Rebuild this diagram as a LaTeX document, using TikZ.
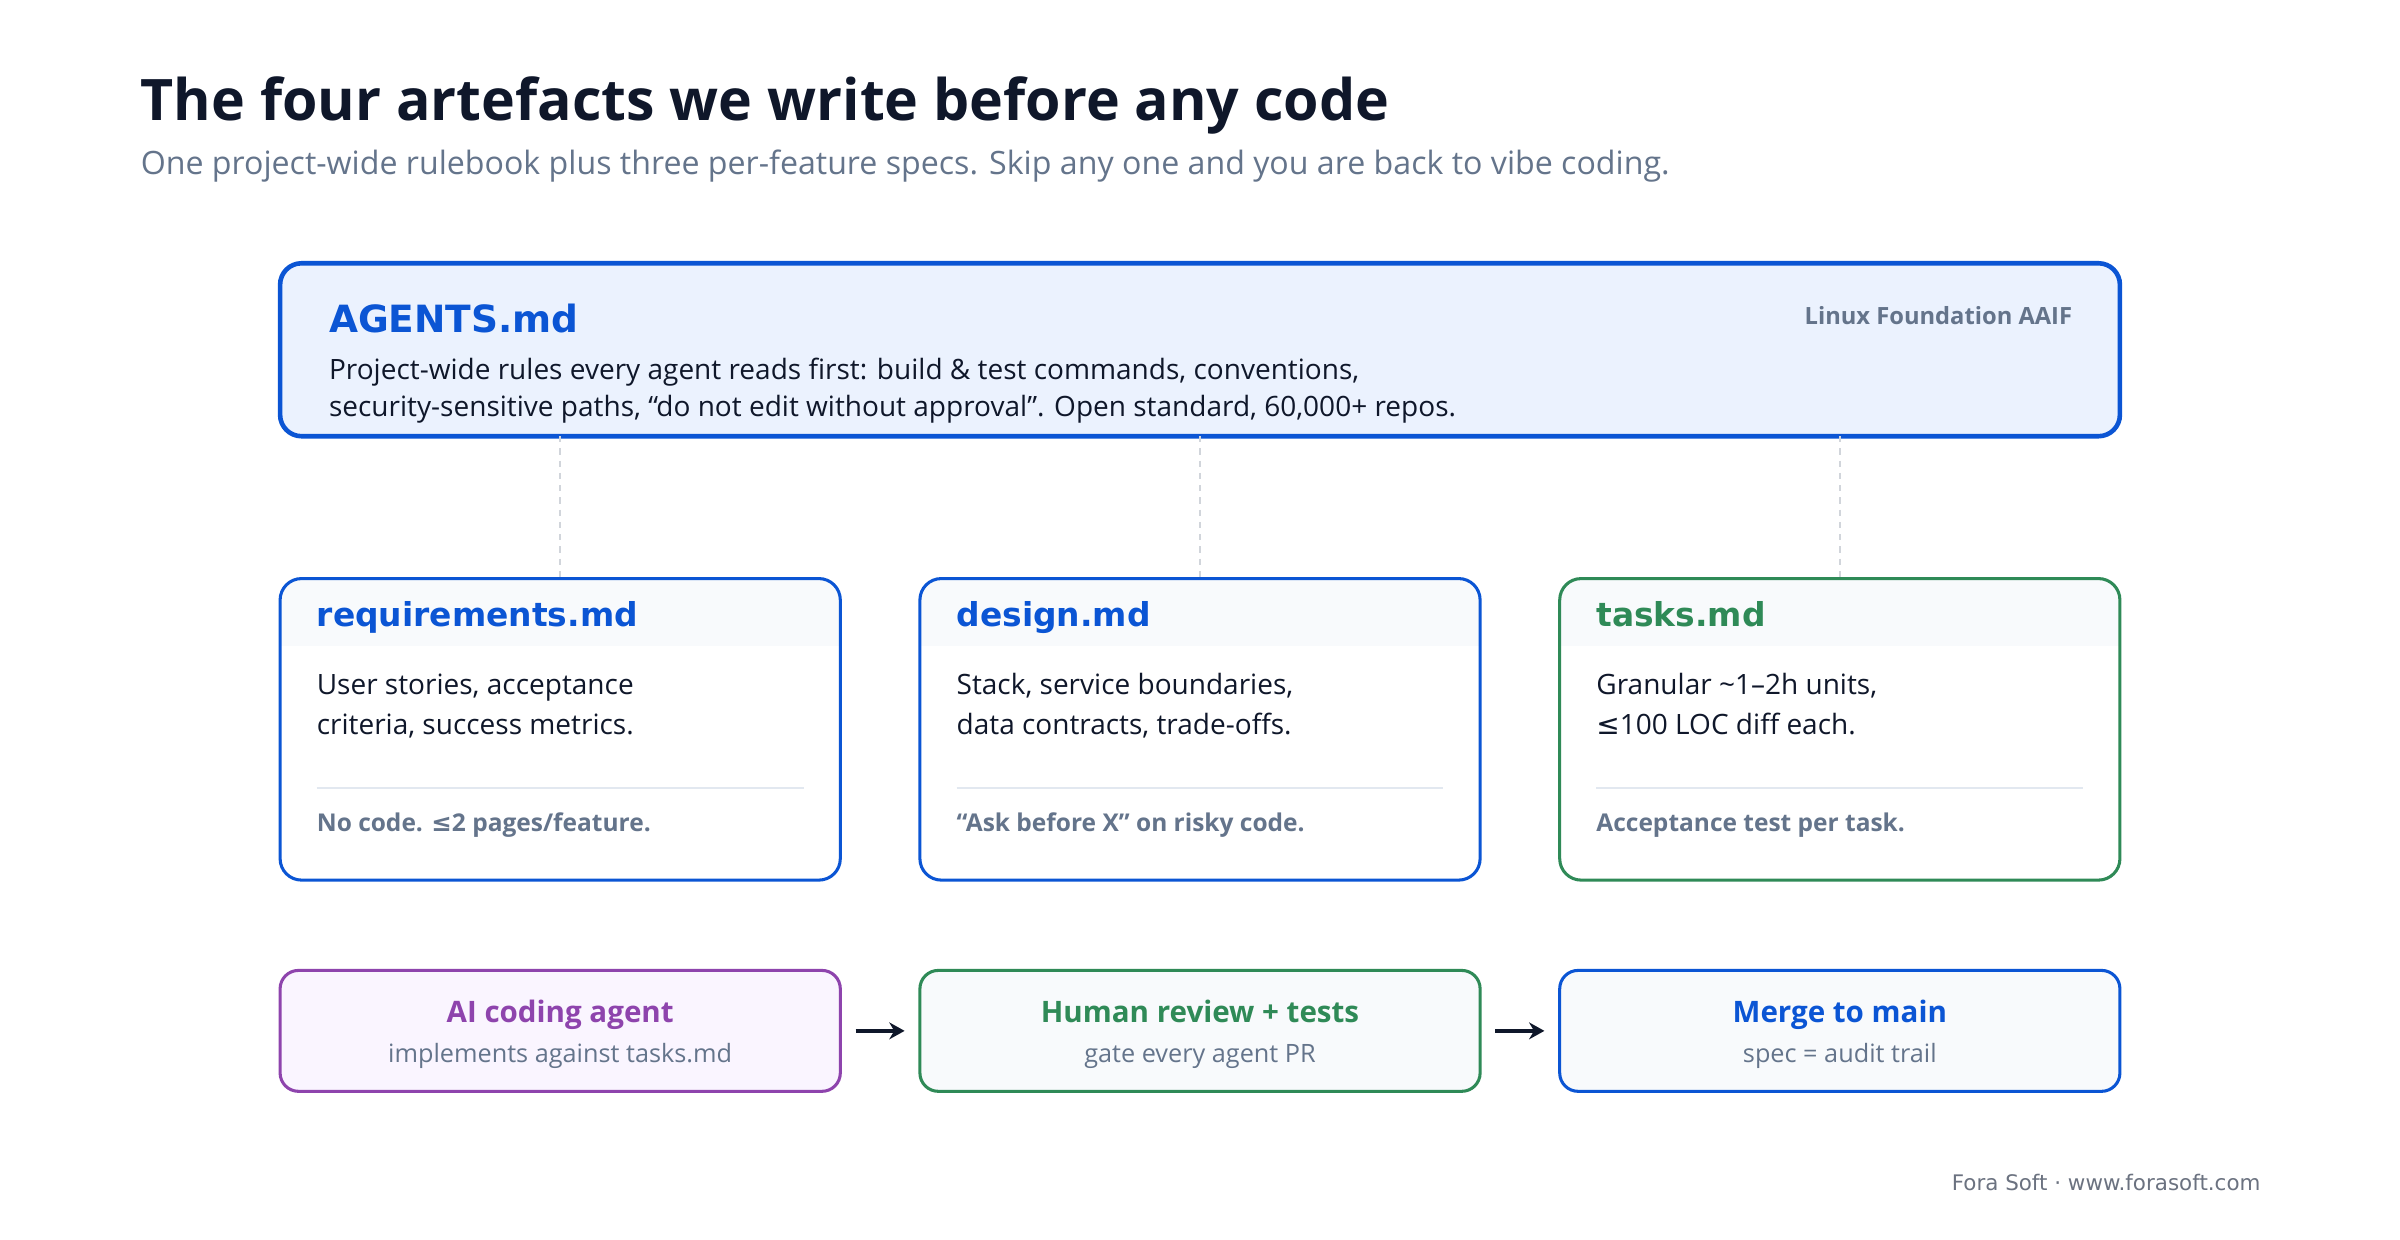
\documentclass[tikz,border=0pt]{standalone}
\usepackage{fontspec}
\setmainfont{Open Sans}
\newfontfamily\djv{DejaVu Sans}
\usetikzlibrary{arrows.meta}
\definecolor{ink}{HTML}{0F172A}
\definecolor{slate}{HTML}{64748B}
\definecolor{blu}{HTML}{0B55D4}
\definecolor{grn}{HTML}{2F8A57}
\definecolor{pur}{HTML}{8E44AD}
\definecolor{agbg}{HTML}{EBF2FE}
\definecolor{hdr}{HTML}{F8FAFC}
\definecolor{sepc}{HTML}{E2E8F0}
\definecolor{dashc}{HTML}{D1D5DB}
\definecolor{purbg}{HTML}{FAF5FF}
\definecolor{footc}{HTML}{6B7280}
\newcommand{\leqsym}{{\djv ≤}}
\tikzset{
  box/.style={rectangle, inner sep=0pt, outer sep=0pt, rounded corners=14pt},
  txt/.style={inner sep=0pt, outer sep=0pt, anchor=base west},
  mdtitle/.style={txt, font=\djv\bfseries\fontsize{21.5}{26}\selectfont},
  body/.style={txt, text=ink, font=\fontsize{18.3}{22}\selectfont},
  note/.style={txt, text=slate, font=\bfseries\fontsize{16}{20}\selectfont},
  conn/.style={dashc, line width=1pt, dash pattern=on 4pt off 4pt},
  arr/.style={ink, line width=2.5pt, -{Stealth[length=10pt,width=11pt]}},
  flowt/.style={inner sep=0pt, anchor=base, font=\bfseries\fontsize{19.3}{24}\selectfont},
  flows/.style={inner sep=0pt, anchor=base, text=slate, font=\fontsize{16.5}{20}\selectfont},
}
\begin{document}
\begin{tikzpicture}[x=1pt,y=-1pt]
\useasboundingbox[fill=white] (0,0) rectangle (1568,810);
% title
\node[txt, text=ink, font=\bfseries\fontsize{37.4}{44}\selectfont] (title) at (92,79) {The four artefacts we write before any code};
\node[txt, text=slate, font=\fontsize{21}{24}\selectfont] (sub) at (92,114) {One project-wide rulebook plus three per-feature specs. Skip any one and you are back to vibe coding.};
% AGENTS box
\node[box, fill=agbg, draw=blu, line width=3pt, minimum width=1202pt, minimum height=113pt] (agents) at (784,228.5) {};
\node[txt, text=blu, font=\djv\bfseries\fontsize{24.5}{30}\selectfont] (agt) at (215,217) {AGENTS.md};
\node[inner sep=0pt, anchor=base east, text=slate, font=\bfseries\fontsize{15.5}{20}\selectfont] (lf) at (1354,212) {Linux Foundation AAIF};
\node[body] (ag1) at (215,248) {Project-wide rules every agent reads first: build \& test commands, conventions,};
\node[body] (ag2) at (215,272) {security-sensitive paths, “do not edit without approval”. Open standard, 60,000+ repos.};
% three cards
\foreach \n/\x/\c in {req/183/blu, des/601/blu, tas/1019/grn}{
  \node[box, fill=white, minimum width=366pt, minimum height=197pt, anchor=north west] (\n) at (\x,378) {};
  \begin{scope}
    \clip[rounded corners=14pt] (\n.north west) rectangle (\n.south east);
    \fill[hdr] (\n.north west) rectangle ([yshift=-44pt]\n.north east);
  \end{scope}
  \draw[\c, line width=2pt, rounded corners=14pt] (\n.north west) rectangle (\n.south east);
  \draw[sepc, line width=1.5pt] ([xshift=24pt,yshift=-137pt]\n.north west) -- ([xshift=-24pt,yshift=-137pt]\n.north east);
  \draw[conn] (\n.north |- agents.south) -- (\n.north);
}
\node[mdtitle, text=blu] (reqt) at (207,409) {requirements.md};
\node[body] (req1) at (207,454) {User stories, acceptance};
\node[body] (req2) at (207,480) {criteria, success metrics.};
\node[note] (reqn) at (207,543) {No code. \leqsym2 pages/feature.};
\node[mdtitle, text=blu] (dest) at (625,409) {design.md};
\node[body] (des1) at (625,454) {Stack, service boundaries,};
\node[body] (des2) at (625,480) {data contracts, trade-offs.};
\node[note] (desn) at (625,543) {“Ask before X” on risky code.};
\node[mdtitle, text=grn] (tast) at (1043,409) {tasks.md};
\node[body] (tas1) at (1043,454) {Granular \textasciitilde 1–2h units,};
\node[body] (tas2) at (1043,480) {\leqsym100 LOC diff each.};
\node[note] (tasn) at (1043,543) {Acceptance test per task.};
% bottom flow
\node[box, rounded corners=12pt, fill=purbg, draw=pur, line width=2pt, minimum width=366pt, minimum height=79pt] (ai) at (366,673.5) {};
\node[box, rounded corners=12pt, fill=hdr, draw=grn, line width=2pt, minimum width=366pt, minimum height=79pt] (hr) at (784,673.5) {};
\node[box, rounded corners=12pt, fill=hdr, draw=blu, line width=2pt, minimum width=366pt, minimum height=79pt] (mm) at (1202,673.5) {};
\node[flowt, text=pur] (ait) at (366,668) {AI coding agent};
\node[flows] (ais) at (366,694) {implements against tasks.md};
\node[flowt, text=grn] (hrt) at (784,668) {Human review + tests};
\node[flows] (hrs) at (784,694) {gate every agent PR};
\node[flowt, text=blu] (mmt) at (1202,668) {Merge to main};
\node[flows] (mms) at (1202,694) {spec = audit trail};
\draw[arr] ([xshift=10pt]ai.east) -- ([xshift=-10pt]hr.west);
\draw[arr] ([xshift=10pt]hr.east) -- ([xshift=-10pt]mm.west);
% footer
\node[inner sep=0pt, anchor=base east, text=footc, font=\djv\fontsize{14}{18}\selectfont] (foot) at (1477,778) {Fora Soft · www.forasoft.com};
\end{tikzpicture}
\end{document}
